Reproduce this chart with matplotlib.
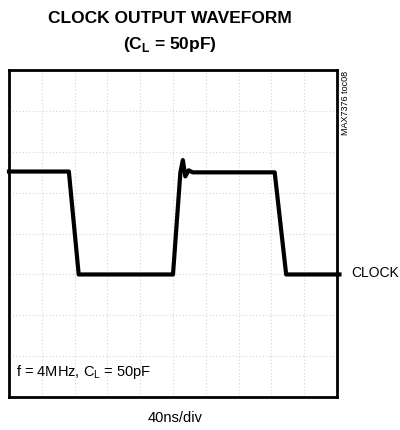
import matplotlib
matplotlib.use("Agg")
import matplotlib.pyplot as plt

plt.rcParams['font.family'] = ['Liberation Sans', 'DejaVu Sans']

# 波形数据 (时间 ns, 电平 以格为单位)
t_ns = [0, 73, 85, 200, 209, 212, 215, 219, 224, 324, 338, 403]
level = [5.52, 5.52, 3.0, 3.0, 5.5, 5.8, 5.4, 5.55, 5.5, 5.5, 3.0, 3.0]

x_divs = 10
y_divs = 8
ns_per_div = 40

fig = plt.figure(figsize=(4.0, 4.3), dpi=100)
ax = fig.add_axes([0.0225, 0.0767, 0.82, 0.760])

ax.plot(t_ns, level, color='black', linewidth=3.0, clip_on=False, zorder=3)

ax.set_xlim(0, x_divs * ns_per_div)
ax.set_ylim(0, y_divs)
ax.set_xticks(range(0, x_divs * ns_per_div + 1, ns_per_div))
ax.set_yticks(range(0, y_divs + 1))
ax.grid(True, color='#d4d4d4', linestyle=(0, (1, 2)), linewidth=0.8)
ax.tick_params(length=0, labelbottom=False, labelleft=False)
for s in ax.spines.values():
    s.set_linewidth(2.0)

# 标题
fig.text(0.425, 0.958, 'CLOCK OUTPUT WAVEFORM', ha='center', va='center',
         fontsize=12.5, fontweight='bold')
fig.text(0.425, 0.897, '(C$_\\mathregular{L}$ = 50pF)', ha='center', va='center',
         fontsize=12.5, fontweight='bold')

ax.text(0.02, 0.078, 'f = 4MHz, C$_\\mathregular{L}$ = 50pF', transform=ax.transAxes,
        ha='left', va='center', fontsize=10.5)
fig.text(0.863, 0.836, 'MAX7376 toc08', rotation=90, ha='center', va='top', fontsize=6.5)
fig.text(0.878, 0.365, 'CLOCK', ha='left', va='center', fontsize=10)
fig.text(0.437, 0.028, '40ns/div', ha='center', va='center', fontsize=10.5)

plt.savefig('out.png', dpi=100)
